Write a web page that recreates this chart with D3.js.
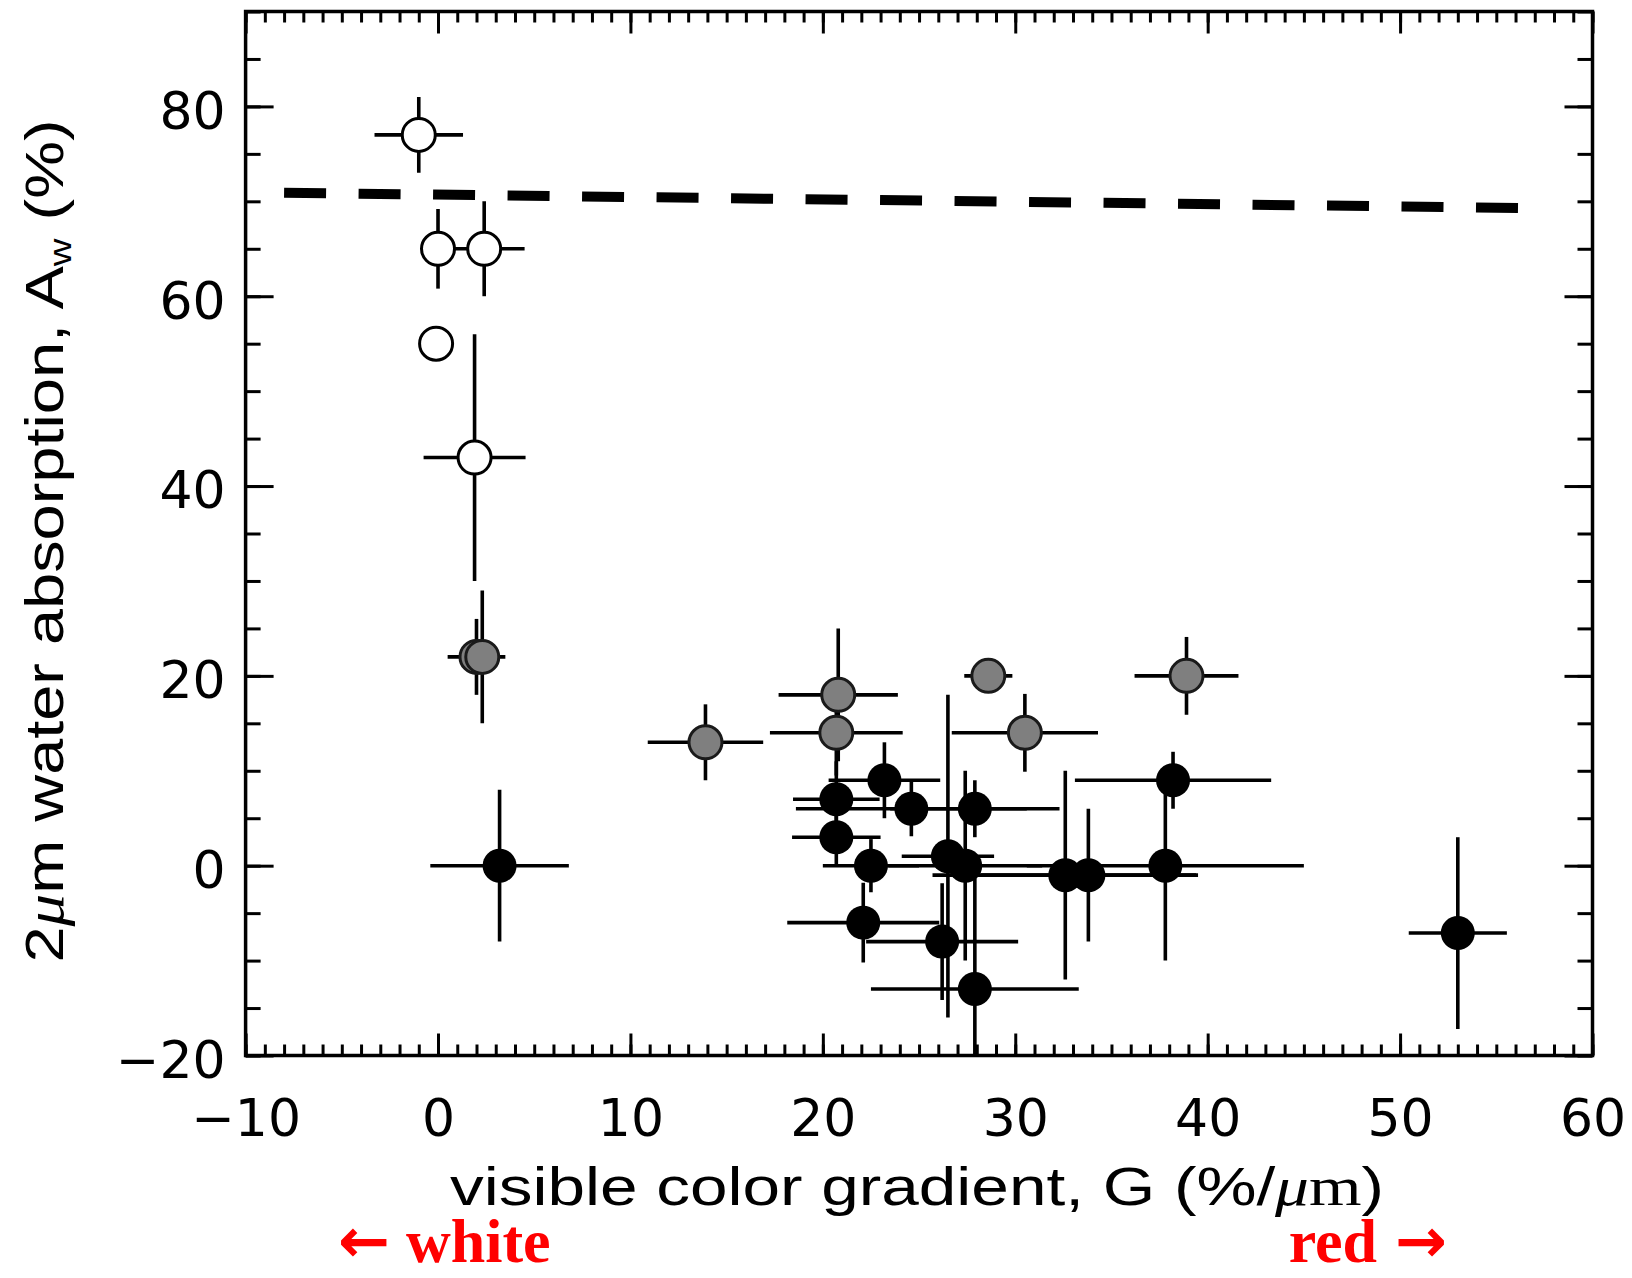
<!DOCTYPE html>
<html>
  <head>
    <title>Water absorption vs colour gradient</title>
    <script src="https://d3js.org/d3.v7.min.js"></script>
    <style>
      body { margin: 0; background: #fff; }
    </style>
  </head>

  <body>
    <svg width="1632" height="1278"></svg>

    <script type="text/javascript">
      // open symbols
      var whiteG = [-1.0, 0.0, 2.4, -0.1, 1.9];
      var whiteA = [77, 65, 65, 55, 43];
      var whiteGErr = [2.3, 0.8, 2.1, 0, 2.65];
      var whiteAErr = [4, 4.2, 5, 0, 13];

      // grey symbols
      var greyG = [2.0, 2.3, 13.9, 20.8, 20.7, 28.6, 30.5, 38.9];
      var greyA = [22, 22, 13, 18, 14, 20, 14, 20];
      var greyGErr = [1.5, 0.5, 3.0, 3.1, 3.45, 1.25, 3.8, 2.7];
      var greyAErr = [4, 7, 4, 7, 4.5, 0, 4.1, 4.1];

      // black symbols
      var blackG = [3.2, 23.2, 20.7, 24.6, 27.9, 20.7, 22.5, 26.5, 27.4, 32.6,
        33.8, 22.1, 26.2, 27.9, 37.8, 38.2, 53.0];
      var blackA = [0, 9, 7, 6, 6, 3, 0, 1, 0, -1, -1, -6, -8, -13, 0, 9, -7.1];
      var blackGErr = [3.6, 2.9, 2.25, 6.0, 4.4, 2.3, 2.5, 2.4, 4.0, 6.9, 5.6,
        3.95, 3.95, 5.4, 7.2, 5.1, 2.55];
      var blackAErr = [8, 4, 4, 2.9, 3, 3, 2.8, 17, 10, 11, 7, 4.2, 6.15, 12.3,
        10, 3, 10.1];

      // dashed line
      var fitG = [-8.0, 56.2];
      var fitA = [70.9, 69.3];

      var xTicks = [-10, 0, 10, 20, 30, 40, 50, 60];
      var yTicks = [-20, 0, 20, 40, 60, 80];
      var xMinor = d3.range(-10, 61, 1);
      var yMinor = d3.range(-20, 91, 5);

      var svg = d3.select("svg");

      var xScale = d3.scaleLinear().domain([-10, 60]).range([245.6, 1592.5]);
      var yScale = d3.scaleLinear().domain([-20, 90]).range([1055.5, 11.5]);

      var plotLeft = xScale.range()[0],
        plotRight = xScale.range()[1],
        plotTop = yScale.range()[1],
        plotBottom = yScale.range()[0];

      function makePoints(gs, as, ge, ae, kind) {
        return gs.map(function (g, i) {
          return { g: g, a: as[i], ge: ge[i], ae: ae[i], kind: kind };
        });
      }

      var points = []
        .concat(makePoints(whiteG, whiteA, whiteGErr, whiteAErr, "white"))
        .concat(makePoints(greyG, greyA, greyGErr, greyAErr, "grey"))
        .concat(makePoints(blackG, blackA, blackGErr, blackAErr, "black"));

      svg
        .append("defs")
        .append("clipPath")
        .attr("id", "plotclip")
        .append("rect")
        .attr("x", plotLeft)
        .attr("y", plotTop)
        .attr("width", plotRight - plotLeft)
        .attr("height", plotBottom - plotTop);

      // ticks (inward, all four sides)
      function styleAxis(g) {
        g.select(".domain").remove();
        g.selectAll(".tick line").attr("stroke", "#000").attr("stroke-width", 3);
      }

      svg
        .append("g")
        .attr("transform", "translate(0," + plotBottom + ")")
        .call(d3.axisBottom(xScale).tickValues(xMinor).tickSize(-11).tickFormat(""))
        .call(styleAxis);
      svg
        .append("g")
        .attr("transform", "translate(0," + plotTop + ")")
        .call(d3.axisTop(xScale).tickValues(xMinor).tickSize(-11).tickFormat(""))
        .call(styleAxis);
      svg
        .append("g")
        .attr("transform", "translate(0," + plotTop + ")")
        .call(d3.axisTop(xScale).tickValues(xTicks).tickSize(-22).tickFormat(""))
        .call(styleAxis);
      svg
        .append("g")
        .attr("transform", "translate(" + plotLeft + ",0)")
        .call(d3.axisLeft(yScale).tickValues(yMinor).tickSize(-15).tickFormat(""))
        .call(styleAxis);
      svg
        .append("g")
        .attr("transform", "translate(" + plotRight + ",0)")
        .call(d3.axisRight(yScale).tickValues(yMinor).tickSize(-15).tickFormat(""))
        .call(styleAxis);
      svg
        .append("g")
        .attr("transform", "translate(" + plotRight + ",0)")
        .call(d3.axisRight(yScale).tickValues(yTicks).tickSize(-28).tickFormat(""))
        .call(styleAxis);

      var minus = function (d) {
        return d < 0 ? "\u2212" + Math.abs(d) : String(d);
      };

      var xAxis = svg
        .append("g")
        .attr("transform", "translate(0," + plotBottom + ")")
        .call(d3.axisBottom(xScale).tickValues(xTicks).tickSize(-22).tickPadding(44).tickFormat(minus))
        .call(styleAxis);
      xAxis
        .selectAll("text")
        .attr("font-family", "DejaVu Sans")
        .attr("font-size", 52)
        .attr("fill", "#000");
      xAxis.attr("font-family", null).attr("font-size", null);

      var yAxis = svg
        .append("g")
        .attr("transform", "translate(" + plotLeft + ",0)")
        .call(d3.axisLeft(yScale).tickValues(yTicks).tickSize(-28).tickPadding(20).tickFormat(minus))
        .call(styleAxis);
      yAxis
        .selectAll("text")
        .attr("font-family", "DejaVu Sans")
        .attr("font-size", 52)
        .attr("dy", "0.42em")
        .attr("fill", "#000");
      yAxis.attr("font-family", null).attr("font-size", null);

      // frame
      svg
        .append("rect")
        .attr("x", plotLeft)
        .attr("y", plotTop)
        .attr("width", plotRight - plotLeft)
        .attr("height", plotBottom - plotTop)
        .attr("fill", "none")
        .attr("stroke", "#000")
        .attr("stroke-width", 3.5);

      // dashed line
      var lineGenerator = d3
        .line()
        .x(function (d) {
          return xScale(d[0]);
        })
        .y(function (d) {
          return yScale(d[1]);
        });
      svg
        .append("path")
        .attr("d", lineGenerator(fitG.map(function (g, i) { return [g, fitA[i]]; })))
        .attr("fill", "none")
        .attr("stroke", "#000")
        .attr("stroke-width", 10)
        .attr("stroke-dasharray", "42,32.5");

      // error bars
      var bars = svg.append("g").attr("clip-path", "url(#plotclip)");
      points.forEach(function (p) {
        if (p.ge > 0) {
          bars
            .append("line")
            .attr("x1", xScale(p.g - p.ge))
            .attr("x2", xScale(p.g + p.ge))
            .attr("y1", yScale(p.a))
            .attr("y2", yScale(p.a))
            .attr("stroke", "#000")
            .attr("stroke-width", 3.6);
        }
        if (p.ae > 0) {
          bars
            .append("line")
            .attr("x1", xScale(p.g))
            .attr("x2", xScale(p.g))
            .attr("y1", yScale(p.a - p.ae))
            .attr("y2", yScale(p.a + p.ae))
            .attr("stroke", "#000")
            .attr("stroke-width", 3.6);
        }
      });

      // symbols
      svg
        .append("g")
        .selectAll("circle")
        .data(points)
        .enter()
        .append("circle")
        .attr("cx", function (d) {
          return xScale(d.g);
        })
        .attr("cy", function (d) {
          return yScale(d.a);
        })
        .attr("r", function (d) {
          return d.kind == "black" ? 17 : 16.5;
        })
        .attr("fill", function (d) {
          return d.kind == "white" ? "#fff" : d.kind == "grey" ? "#7f7f7f" : "#000";
        })
        .attr("stroke", function (d) {
          return d.kind == "grey" ? "#1a1a1a" : "#000";
        })
        .attr("stroke-width", function (d) {
          return d.kind == "black" ? 0 : 3;
        });

      // axis titles
      var xTitle = svg
        .append("text")
        .attr("x", 917)
        .attr("y", 1205)
        .attr("text-anchor", "middle")
        .attr("font-family", "Liberation Sans")
        .attr("font-size", 54)
        .attr("textLength", 934)
        .attr("lengthAdjust", "spacingAndGlyphs");
      xTitle.append("tspan").text("visible color gradient, G (%/");
      xTitle.append("tspan").attr("font-style", "italic").attr("font-family", "Liberation Serif").text("\u03bc");
      xTitle.append("tspan").attr("font-family", "Liberation Serif").text("m");
      xTitle.append("tspan").text(")");

      var yTitle = svg
        .append("text")
        .attr("transform", "translate(63,541) rotate(-90)")
        .attr("text-anchor", "middle")
        .attr("font-family", "Liberation Sans")
        .attr("font-size", 54)
        .attr("textLength", 843)
        .attr("lengthAdjust", "spacingAndGlyphs");
      yTitle.append("tspan").text("2");
      yTitle.append("tspan").attr("font-style", "italic").attr("font-family", "Liberation Serif").text("\u03bc");
      yTitle.append("tspan").text("m  water  absorption,  A");
      yTitle.append("tspan").attr("font-size", 32).attr("dy", 8).text("w");
      yTitle.append("tspan").attr("dy", -8).text("  (%)");

      // red direction labels
      var whiteLabel = svg
        .append("text")
        .attr("x", 338)
        .attr("y", 1262)
        .attr("font-family", "Liberation Serif")
        .attr("font-weight", "bold")
        .attr("font-size", 62)
        .attr("fill", "#ff0000");
      whiteLabel.append("tspan").attr("font-family", "DejaVu Sans").text("\u2190");
      whiteLabel.append("tspan").attr("dx", 16).text("white");

      var redLabel = svg
        .append("text")
        .attr("x", 1447)
        .attr("y", 1262)
        .attr("text-anchor", "end")
        .attr("font-family", "Liberation Serif")
        .attr("font-weight", "bold")
        .attr("font-size", 62)
        .attr("fill", "#ff0000");
      redLabel.append("tspan").text("red");
      redLabel.append("tspan").attr("dx", 18).attr("font-family", "DejaVu Sans").text("\u2192");
    </script>
  </body>
</html>
